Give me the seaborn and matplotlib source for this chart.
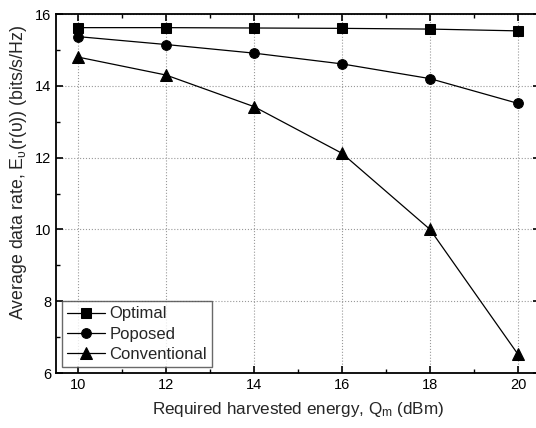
import matplotlib
matplotlib.use("Agg")
import matplotlib.pyplot as plt
import seaborn as sns
import pandas as pd
from matplotlib.ticker import MultipleLocator

x_vals = [10, 12, 14, 16, 18, 20]
optimal = [15.62, 15.62, 15.61, 15.60, 15.58, 15.53]
proposed = [15.37, 15.15, 14.91, 14.61, 14.20, 13.51]
conventional = [14.80, 14.30, 13.42, 12.12, 10.00, 6.52]
series_names = ["Optimal", "Poposed", "Conventional"]
markers = ["s", "o", "^"]

sns.set_theme(style="ticks")
plt.rcParams['font.family'] = ['Liberation Sans', 'DejaVu Sans']
plt.rcParams['mathtext.fontset'] = 'custom'
plt.rcParams['mathtext.rm'] = 'Liberation Sans'
plt.rcParams['mathtext.it'] = 'Liberation Sans'

fig = plt.figure(figsize=(5.36, 4.28), dpi=100)
ax = fig.add_axes([56/536, 55/428, (540-56)/536, (373-14)/428])

for name, vals, m in zip(series_names, [optimal, proposed, conventional], markers):
    df = pd.DataFrame({"x": x_vals, "y": vals})
    sns.lineplot(data=df, x="x", y="y", ax=ax, color="black", linewidth=0.9,
                 marker=m, markersize=7 if m != "^" else 8, markeredgecolor="black",
                 markerfacecolor="black", label=name)

ax.set_xlim(9.5, 20.5)
ax.set_ylim(6, 16)
ax.xaxis.set_major_locator(MultipleLocator(2))
ax.xaxis.set_minor_locator(MultipleLocator(1))
ax.yaxis.set_major_locator(MultipleLocator(2))
ax.yaxis.set_minor_locator(MultipleLocator(1))
ax.tick_params(which="both", direction="in", top=True, right=True, labelsize=10.5, colors="black")
ax.tick_params(which="major", length=5, width=1.2)
ax.tick_params(which="minor", length=3, width=1.0)
ax.grid(True, which="major", linestyle=":", color="#999999", linewidth=0.8)
for s in ax.spines.values():
    s.set_linewidth(1.3)
    s.set_color("black")

ax.set_xlabel("Required harvested energy, Q$_\\mathregular{m}$ (dBm)", fontsize=12.3, labelpad=6)
ax.set_ylabel("Average data rate, E$_\\mathregular{\u03c5}$(r(\u03c5)) (bits/s/Hz)", fontsize=12.8)
ax.yaxis.set_label_coords(-0.055, 0.56)

leg = ax.legend(loc="lower left", fontsize=12, frameon=True, fancybox=False,
                borderaxespad=0.36, handlelength=2.3, handletextpad=0.25, labelspacing=0.32,
                borderpad=0.3)
leg.get_frame().set_edgecolor("#444444")
leg.get_frame().set_linewidth(1.0)

fig.savefig("out.png", dpi=100)
